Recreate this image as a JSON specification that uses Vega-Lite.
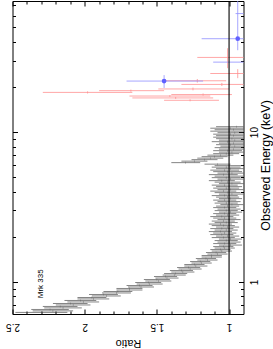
{
"$schema": "https://vega.github.io/schema/vega-lite/v6.json",
"width": 231, "height": 313,
"autosize": {"type": "none"},
"padding": {"left": 12.5, "top": 1, "right": 29.5, "bottom": 35},
"config": {
  "view": {"stroke": null},
  "axis": {"grid": false, "domainColor": "#000", "tickColor": "#000", "labelColor": "#000", "titleColor": "#000", "labelFont": "Liberation Sans", "titleFont": "Liberation Sans", "titleFontWeight": "normal", "domainWidth": 1, "tickWidth": 1, "labelOverlap": false, "labelFlush": false, "labelBound": false}
},
"resolve": {"axis": {"x": "independent", "y": "independent"}},
"datasets": {
"black": [
{"e":0.625,"r":2.30,"r0":2.12,"r1":2.48},{"e":0.640,"r":2.22,"r0":2.08,"r1":2.36},{"e":0.654,"r":2.24,"r0":2.11,"r1":2.37},{"e":0.670,"r":2.15,"r0":2.02,"r1":2.28},{"e":0.685,"r":2.17,"r0":2.05,"r1":2.29},{"e":0.701,"r":2.08,"r0":1.96,"r1":2.20},{"e":0.717,"r":2.10,"r0":1.98,"r1":2.22},{"e":0.734,"r":2.01,"r0":1.90,"r1":2.12},{"e":0.751,"r":2.03,"r0":1.92,"r1":2.14},{"e":0.769,"r":1.94,"r0":1.83,"r1":2.05},
{"e":0.786,"r":1.95,"r0":1.85,"r1":2.05},{"e":0.805,"r":1.85,"r0":1.75,"r1":1.95},{"e":0.823,"r":1.87,"r0":1.77,"r1":1.97},{"e":0.843,"r":1.78,"r0":1.68,"r1":1.88},{"e":0.862,"r":1.77,"r0":1.67,"r1":1.87},{"e":0.882,"r":1.69,"r0":1.60,"r1":1.78},{"e":0.903,"r":1.69,"r0":1.60,"r1":1.78},{"e":0.924,"r":1.61,"r0":1.52,"r1":1.70},{"e":0.945,"r":1.62,"r0":1.53,"r1":1.71},{"e":0.967,"r":1.55,"r0":1.46,"r1":1.64},
{"e":0.990,"r":1.56,"r0":1.47,"r1":1.65},{"e":1.013,"r":1.49,"r0":1.40,"r1":1.58},{"e":1.036,"r":1.50,"r0":1.41,"r1":1.59},{"e":1.060,"r":1.43,"r0":1.35,"r1":1.51},{"e":1.085,"r":1.44,"r0":1.36,"r1":1.52},{"e":1.110,"r":1.38,"r0":1.30,"r1":1.46},{"e":1.136,"r":1.37,"r0":1.29,"r1":1.45},{"e":1.163,"r":1.32,"r0":1.24,"r1":1.40},{"e":1.190,"r":1.33,"r0":1.25,"r1":1.41},{"e":1.218,"r":1.27,"r0":1.19,"r1":1.35},
{"e":1.246,"r":1.28,"r0":1.20,"r1":1.36},{"e":1.275,"r":1.23,"r0":1.15,"r1":1.31},{"e":1.305,"r":1.24,"r0":1.17,"r1":1.31},{"e":1.335,"r":1.19,"r0":1.12,"r1":1.26},{"e":1.366,"r":1.20,"r0":1.13,"r1":1.27},{"e":1.398,"r":1.15,"r0":1.08,"r1":1.22},{"e":1.431,"r":1.16,"r0":1.09,"r1":1.23},{"e":1.464,"r":1.12,"r0":1.05,"r1":1.19},{"e":1.498,"r":1.12,"r0":1.05,"r1":1.19},{"e":1.533,"r":1.08,"r0":1.01,"r1":1.15},
{"e":1.569,"r":1.09,"r0":1.02,"r1":1.16},{"e":1.605,"r":1.05,"r0":0.98,"r1":1.12},{"e":1.643,"r":1.06,"r0":0.99,"r1":1.13},{"e":1.681,"r":1.03,"r0":0.96,"r1":1.10},{"e":1.720,"r":1.04,"r0":0.97,"r1":1.11},{"e":1.760,"r":0.99,"r0":0.91,"r1":1.07},{"e":1.801,"r":1.03,"r0":0.95,"r1":1.11},{"e":1.843,"r":1.00,"r0":0.92,"r1":1.08},{"e":1.886,"r":1.02,"r0":0.94,"r1":1.10},{"e":1.930,"r":0.99,"r0":0.91,"r1":1.07},
{"e":1.975,"r":1.04,"r0":0.96,"r1":1.12},{"e":2.021,"r":1.01,"r0":0.93,"r1":1.09},{"e":2.068,"r":1.05,"r0":0.97,"r1":1.13},{"e":2.117,"r":1.03,"r0":0.95,"r1":1.11},{"e":2.166,"r":1.06,"r0":0.98,"r1":1.14},{"e":2.216,"r":1.02,"r0":0.94,"r1":1.10},{"e":2.268,"r":1.05,"r0":0.97,"r1":1.13},{"e":2.321,"r":1.01,"r0":0.93,"r1":1.09},{"e":2.375,"r":1.04,"r0":0.96,"r1":1.12},{"e":2.430,"r":1.06,"r0":0.98,"r1":1.14},
{"e":2.487,"r":1.02,"r0":0.94,"r1":1.10},{"e":2.545,"r":1.04,"r0":0.96,"r1":1.12},{"e":2.604,"r":1.00,"r0":0.92,"r1":1.08},{"e":2.665,"r":1.03,"r0":0.95,"r1":1.11},{"e":2.727,"r":1.05,"r0":0.97,"r1":1.13},{"e":2.790,"r":1.01,"r0":0.93,"r1":1.09},{"e":2.855,"r":1.03,"r0":0.95,"r1":1.11},{"e":2.922,"r":0.99,"r0":0.91,"r1":1.07},{"e":2.990,"r":1.02,"r0":0.94,"r1":1.10},{"e":3.060,"r":1.00,"r0":0.92,"r1":1.08},
{"e":3.131,"r":1.03,"r0":0.95,"r1":1.11},{"e":3.204,"r":1.01,"r0":0.93,"r1":1.09},{"e":3.279,"r":0.98,"r0":0.90,"r1":1.06},{"e":3.355,"r":1.02,"r0":0.94,"r1":1.10},{"e":3.433,"r":1.00,"r0":0.92,"r1":1.08},{"e":3.513,"r":1.03,"r0":0.95,"r1":1.11},{"e":3.595,"r":0.99,"r0":0.91,"r1":1.07},{"e":3.679,"r":1.01,"r0":0.93,"r1":1.09},{"e":3.765,"r":1.03,"r0":0.94,"r1":1.12},{"e":3.852,"r":0.98,"r0":0.89,"r1":1.07},
{"e":3.942,"r":1.01,"r0":0.92,"r1":1.10},{"e":4.034,"r":1.04,"r0":0.95,"r1":1.13},{"e":4.128,"r":0.99,"r0":0.90,"r1":1.08},{"e":4.224,"r":1.02,"r0":0.93,"r1":1.11},{"e":4.323,"r":1.00,"r0":0.91,"r1":1.09},{"e":4.423,"r":1.03,"r0":0.94,"r1":1.12},{"e":4.527,"r":0.98,"r0":0.89,"r1":1.07},{"e":4.632,"r":1.01,"r0":0.92,"r1":1.10},{"e":4.740,"r":1.05,"r0":0.96,"r1":1.14},{"e":4.851,"r":0.99,"r0":0.90,"r1":1.08},
{"e":4.964,"r":1.02,"r0":0.92,"r1":1.12},{"e":5.079,"r":1.00,"r0":0.90,"r1":1.10},{"e":5.198,"r":1.04,"r0":0.94,"r1":1.14},{"e":5.319,"r":0.98,"r0":0.88,"r1":1.08},{"e":5.443,"r":1.01,"r0":0.91,"r1":1.11},{"e":5.570,"r":1.03,"r0":0.93,"r1":1.13},{"e":5.700,"r":0.99,"r0":0.89,"r1":1.09},{"e":5.832,"r":1.02,"r0":0.92,"r1":1.12},{"e":5.968,"r":1.00,"r0":0.90,"r1":1.10},{"e":6.107,"r":1.08,"r0":0.99,"r1":1.17},
{"e":6.250,"r":1.30,"r0":1.20,"r1":1.40},{"e":6.395,"r":1.24,"r0":1.15,"r1":1.33},{"e":6.544,"r":1.17,"r0":1.08,"r1":1.26},{"e":6.697,"r":1.13,"r0":1.04,"r1":1.22},{"e":6.853,"r":1.10,"r0":1.01,"r1":1.19},{"e":7.013,"r":1.06,"r0":0.97,"r1":1.15},{"e":7.176,"r":1.02,"r0":0.93,"r1":1.11},{"e":7.343,"r":0.98,"r0":0.89,"r1":1.07},{"e":7.514,"r":1.01,"r0":0.91,"r1":1.11},{"e":7.690,"r":0.97,"r0":0.87,"r1":1.07},
{"e":7.869,"r":1.00,"r0":0.90,"r1":1.10},{"e":8.052,"r":0.96,"r0":0.86,"r1":1.06},{"e":8.240,"r":0.99,"r0":0.89,"r1":1.09},{"e":8.432,"r":0.97,"r0":0.87,"r1":1.07},{"e":8.628,"r":1.01,"r0":0.90,"r1":1.12},{"e":8.829,"r":0.96,"r0":0.85,"r1":1.07},{"e":9.035,"r":0.98,"r0":0.87,"r1":1.09},{"e":9.245,"r":1.00,"r0":0.89,"r1":1.11},{"e":9.461,"r":0.97,"r0":0.85,"r1":1.09},{"e":9.681,"r":0.99,"r0":0.87,"r1":1.11},
{"e":9.907,"r":0.96,"r0":0.84,"r1":1.08},{"e":10.14,"r":1.00,"r0":0.87,"r1":1.13},{"e":10.37,"r":0.97,"r0":0.84,"r1":1.10},{"e":10.61,"r":0.99,"r0":0.85,"r1":1.13},{"e":10.86,"r":0.95,"r0":0.81,"r1":1.09}
],
"red": [
{"e":31.5,"e0":26.7,"e1":36.3,"r":1.01,"r0":0.80,"r1":1.22},
{"e":24.6,"e0":22.9,"e1":26.3,"r":0.94,"r0":0.76,"r1":1.13},
{"e":22.0,"e0":21.4,"e1":22.6,"r":1.22,"r0":1.02,"r1":1.44},
{"e":20.8,"e0":20.3,"e1":21.3,"r":1.05,"r0":0.85,"r1":1.33},
{"e":19.4,"e0":19.0,"e1":19.8,"r":1.25,"r0":1.00,"r1":1.49},
{"e":18.9,"e0":18.6,"e1":19.2,"r":1.68,"r0":1.45,"r1":1.90},
{"e":18.4,"e0":18.1,"e1":18.7,"r":1.98,"r0":1.67,"r1":2.29},
{"e":17.8,"e0":17.5,"e1":18.1,"r":1.18,"r0":0.98,"r1":1.40},
{"e":17.4,"e0":17.15,"e1":17.65,"r":1.41,"r0":1.13,"r1":1.69},
{"e":16.9,"e0":16.65,"e1":17.15,"r":1.37,"r0":1.11,"r1":1.67},
{"e":16.3,"e0":16.05,"e1":16.55,"r":1.27,"r0":1.07,"r1":1.45}
],
"blue": [
{"e":21.9,"e0":19.7,"e1":24.0,"r":1.45,"r0":1.18,"r1":1.71},
{"e":29.3,"e0":26.5,"e1":32.5,"r":0.80,"r0":0.50,"r1":1.11},
{"e":42.0,"e0":35.2,"e1":75.0,"r":0.94,"r0":0.70,"r1":1.19},
{"e":61.8,"e0":55.0,"e1":70.0,"r":0.75,"r0":0.50,"r1":0.955}
],
"one": [{"r": 1}],
"label": [{"r": 2.30, "e": 0.97, "t": "Mrk 335"}]
},
"layer": [
{"data": {"name": "black"},
 "mark": {"type": "rule", "color": "#333", "strokeWidth": 0.6, "clip": true},
 "encoding": {
  "x": {"field": "r0", "type": "quantitative", "scale": {"domain": [0.9, 2.5], "reverse": true, "zero": false, "nice": false},
        "axis": {"orient": "bottom", "values": [1, 1.5, 2, 2.5], "format": "~g", "labelAngle": 180, "labelAlign": "center", "labelBaseline": "bottom", "labelFontSize": 10, "labelPadding": 12, "tickSize": -5, "domain": true, "title": "Ratio", "titleAngle": 180, "titleFontSize": 11, "titleBaseline": "bottom", "titlePadding": 6}},
  "x2": {"field": "r1"},
  "y": {"field": "e", "type": "quantitative", "scale": {"type": "log", "domain": [0.61, 75], "nice": false},
        "axis": {"orient": "right", "values": [1, 10], "format": "~g", "labelAngle": 270, "labelAlign": "center", "labelBaseline": "top", "labelFontSize": 10, "labelPadding": 11, "tickSize": -5, "domain": true, "title": "Observed Energy (keV)", "titleAngle": 270, "titleFontSize": 12.5, "titleBaseline": "top", "titlePadding": 0, "titleY": 164}}
 }},
{"data": {"name": "black"},
 "mark": {"type": "tick", "orient": "vertical", "color": "#555", "size": 2, "thickness": 0.5, "clip": true},
 "encoding": {
  "x": {"field": "r", "type": "quantitative", "scale": {"domain": [0.9, 2.5], "reverse": true, "zero": false, "nice": false},
        "axis": {"orient": "bottom", "values": [1.1, 1.2, 1.3, 1.4, 1.6, 1.7, 1.8, 1.9, 2.1, 2.2, 2.3, 2.4], "labels": false, "domain": false, "tickSize": -3, "title": null}},
  "y": {"field": "e", "type": "quantitative", "scale": {"type": "log", "domain": [0.61, 75], "nice": false},
        "axis": {"orient": "right", "values": [0.7, 0.8, 0.9, 2, 3, 4, 5, 6, 7, 8, 9, 20, 30, 40, 50, 60, 70], "labels": false, "domain": false, "tickSize": -3, "title": null}}
 }},
{"data": {"name": "red"},
 "mark": {"type": "rule", "color": "#ff9090", "strokeWidth": 0.8, "clip": true},
 "encoding": {
  "x": {"field": "r0", "type": "quantitative", "scale": {"domain": [0.9, 2.5], "reverse": true, "zero": false, "nice": false},
        "axis": {"orient": "top", "values": [1, 1.5, 2, 2.5], "labels": false, "domain": true, "tickSize": -5, "title": null}},
  "x2": {"field": "r1"},
  "y": {"field": "e", "type": "quantitative", "scale": {"type": "log", "domain": [0.61, 75], "nice": false},
        "axis": {"orient": "left", "values": [1, 10], "labels": false, "domain": true, "tickSize": -5, "title": null}}
 }},
{"data": {"name": "red"},
 "mark": {"type": "rule", "color": "#ff9090", "strokeWidth": 0.8, "clip": true},
 "encoding": {
  "x": {"field": "r", "type": "quantitative", "scale": {"domain": [0.9, 2.5], "reverse": true, "zero": false, "nice": false},
        "axis": {"orient": "top", "values": [1.1, 1.2, 1.3, 1.4, 1.6, 1.7, 1.8, 1.9, 2.1, 2.2, 2.3, 2.4], "labels": false, "domain": false, "tickSize": -3, "title": null}},
  "y": {"field": "e0", "type": "quantitative", "scale": {"type": "log", "domain": [0.61, 75], "nice": false},
        "axis": {"orient": "left", "values": [0.7, 0.8, 0.9, 2, 3, 4, 5, 6, 7, 8, 9, 20, 30, 40, 50, 60, 70], "labels": false, "domain": false, "tickSize": -3, "title": null}},
  "y2": {"field": "e1"}
 }},
{"data": {"name": "blue"},
 "mark": {"type": "rule", "color": "#8f8fff", "strokeWidth": 0.8, "clip": true},
 "encoding": {
  "x": {"field": "r0", "type": "quantitative", "scale": {"domain": [0.9, 2.5], "reverse": true, "zero": false, "nice": false}, "axis": null},
  "x2": {"field": "r1"},
  "y": {"field": "e", "type": "quantitative", "scale": {"type": "log", "domain": [0.61, 75], "nice": false}, "axis": null}
 }},
{"data": {"name": "blue"},
 "mark": {"type": "rule", "color": "#8f8fff", "strokeWidth": 0.8, "clip": true},
 "encoding": {
  "x": {"field": "r", "type": "quantitative", "scale": {"domain": [0.9, 2.5], "reverse": true, "zero": false, "nice": false}, "axis": null},
  "y": {"field": "e0", "type": "quantitative", "scale": {"type": "log", "domain": [0.61, 75], "nice": false}, "axis": null},
  "y2": {"field": "e1"}
 }},
{"data": {"name": "blue"},
 "mark": {"type": "point", "filled": true, "shape": "circle", "color": "#6060ff", "size": 22, "opacity": 1, "clip": true},
 "encoding": {
  "x": {"field": "r", "type": "quantitative", "scale": {"domain": [0.9, 2.5], "reverse": true, "zero": false, "nice": false}, "axis": null},
  "y": {"field": "e", "type": "quantitative", "scale": {"type": "log", "domain": [0.61, 75], "nice": false}, "axis": null}
 }},
{"data": {"name": "one"},
 "mark": {"type": "rule", "color": "#000", "strokeWidth": 1.1},
 "encoding": {
  "x": {"field": "r", "type": "quantitative", "scale": {"domain": [0.9, 2.5], "reverse": true, "zero": false, "nice": false}, "axis": null}
 }},
{"data": {"name": "label"},
 "mark": {"type": "text", "angle": 270, "align": "center", "baseline": "middle", "font": "Liberation Sans", "fontSize": 8, "color": "#000"},
 "encoding": {
  "x": {"field": "r", "type": "quantitative", "scale": {"domain": [0.9, 2.5], "reverse": true, "zero": false, "nice": false}, "axis": null},
  "y": {"field": "e", "type": "quantitative", "scale": {"type": "log", "domain": [0.61, 75], "nice": false}, "axis": null},
  "text": {"field": "t"}
 }}
]
}
